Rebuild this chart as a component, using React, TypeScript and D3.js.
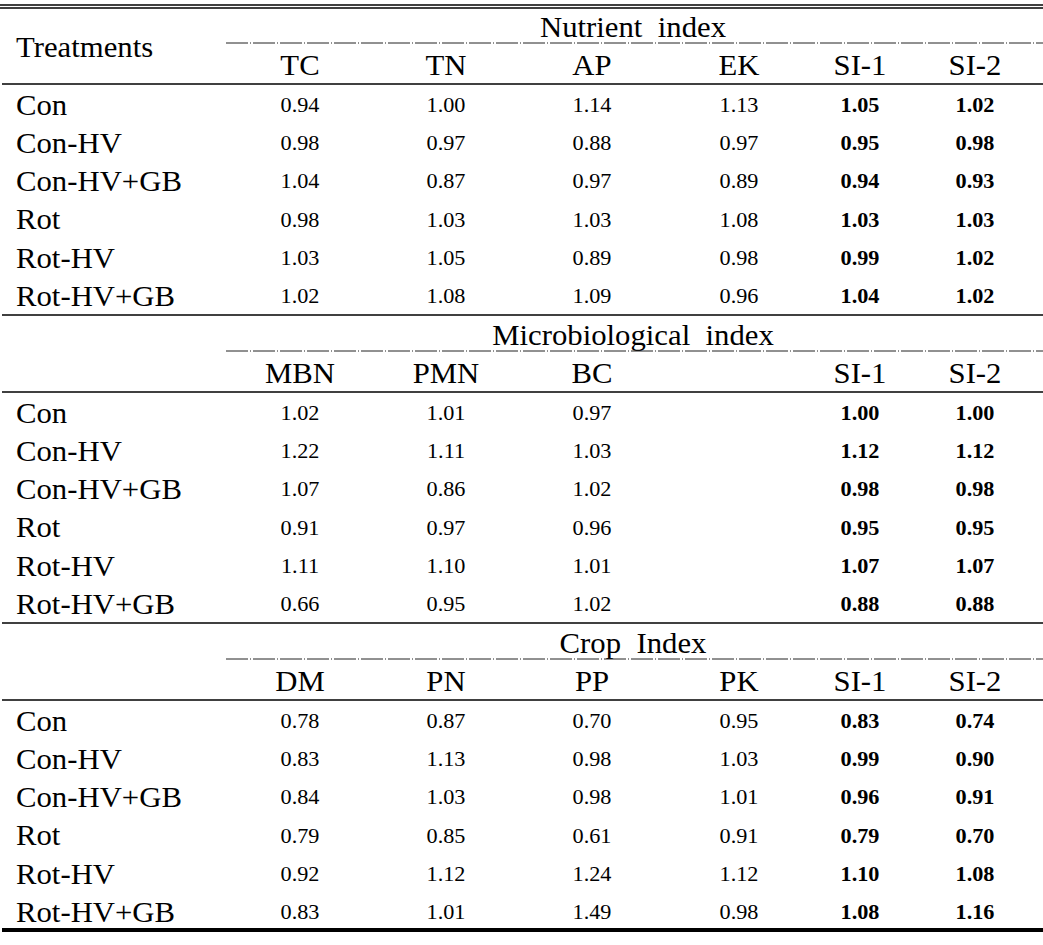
import { useRef, useEffect } from "react";
import * as d3 from "d3";

const WIDTH = 1043;
const HEIGHT = 945;

const treatments = ["Con", "Con-HV", "Con-HV+GB", "Rot", "Rot-HV", "Rot-HV+GB"];

const nutrientCols = ["TC", "TN", "AP", "EK", "SI-1", "SI-2"];
const nutrientRows = [
  ["0.94", "1.00", "1.14", "1.13", "1.05", "1.02"],
  ["0.98", "0.97", "0.88", "0.97", "0.95", "0.98"],
  ["1.04", "0.87", "0.97", "0.89", "0.94", "0.93"],
  ["0.98", "1.03", "1.03", "1.08", "1.03", "1.03"],
  ["1.03", "1.05", "0.89", "0.98", "0.99", "1.02"],
  ["1.02", "1.08", "1.09", "0.96", "1.04", "1.02"],
];

const microCols = ["MBN", "PMN", "BC", "", "SI-1", "SI-2"];
const microRows = [
  ["1.02", "1.01", "0.97", "", "1.00", "1.00"],
  ["1.22", "1.11", "1.03", "", "1.12", "1.12"],
  ["1.07", "0.86", "1.02", "", "0.98", "0.98"],
  ["0.91", "0.97", "0.96", "", "0.95", "0.95"],
  ["1.11", "1.10", "1.01", "", "1.07", "1.07"],
  ["0.66", "0.95", "1.02", "", "0.88", "0.88"],
];

const cropCols = ["DM", "PN", "PP", "PK", "SI-1", "SI-2"];
const cropRows = [
  ["0.78", "0.87", "0.70", "0.95", "0.83", "0.74"],
  ["0.83", "1.13", "0.98", "1.03", "0.99", "0.90"],
  ["0.84", "1.03", "0.98", "1.01", "0.96", "0.91"],
  ["0.79", "0.85", "0.61", "0.91", "0.79", "0.70"],
  ["0.92", "1.12", "1.24", "1.12", "1.10", "1.08"],
  ["0.83", "1.01", "1.49", "0.98", "1.08", "1.16"],
];

const sections = [
  { title: "Nutrient  index", cols: nutrientCols, rows: nutrientRows },
  { title: "Microbiological  index", cols: microCols, rows: microRows },
  { title: "Crop  Index", cols: cropCols, rows: cropRows },
];

const FONT = "'Liberation Serif', 'Times New Roman', serif";
const STRETCH = 1.06; // the source text is a bit wider than Times

function App() {
  const svgRef = useRef<SVGSVGElement>(null);

  useEffect(() => {
    const svg = d3.select(svgRef.current);
    svg.selectAll("*").remove();

    // column centres
    const colX = d3.scaleOrdinal<number, number>()
      .domain([0, 1, 2, 3, 4, 5])
      .range([300, 446, 592, 739, 860, 975]);
    // section top offsets
    const secY = d3.scaleLinear().domain([0, 1]).range([7, 315]);
    // row baselines inside a section
    const rowY = d3.scaleLinear().domain([0, 1]).range([107.5, 145.8]);

    const g = svg.append("g").style("font-family", FONT).attr("fill", "#000");

    // top double rule
    [5, 8].forEach((y) => {
      g.append("line").attr("x1", 0).attr("x2", WIDTH).attr("y1", y).attr("y2", y)
        .attr("stroke", "#000").attr("stroke-width", 1.4);
    });

    g.append("text")
      .attr("transform", `translate(16,57) scale(${STRETCH},1)`)
      .style("font-size", "29px")
      .text("Treatments");

    sections.forEach((sec, si) => {
      const top = secY(si);
      const sg = g.append("g").attr("transform", `translate(0,${top})`);

      if (si > 0) {
        sg.append("line").attr("x1", 2).attr("x2", WIDTH).attr("y1", 0).attr("y2", 0)
          .attr("stroke", "#000").attr("stroke-width", 1.4);
      }

      // section title
      sg.append("text")
        .attr("transform", `translate(633,30) scale(${STRETCH},1)`)
        .attr("text-anchor", "middle")
        .style("font-size", "29px")
        .style("white-space", "pre")
        .attr("xml:space", "preserve")
        .text(sec.title);

      // dash-dot rule under title
      sg.append("line").attr("x1", 226).attr("x2", WIDTH).attr("y1", 36).attr("y2", 36)
        .attr("stroke", "#222").attr("stroke-width", 1)
        .attr("stroke-dasharray", "22 2 1 2");

      // column headers
      sg.selectAll(".hdr")
        .data(sec.cols)
        .join("text")
        .attr("class", "hdr")
        .attr("transform", (_, i) => `translate(${colX(i)},68) scale(${STRETCH},1)`)
        .attr("text-anchor", "middle")
        .style("font-size", "29px")
        .text((d) => d);

      sg.append("line").attr("x1", 2).attr("x2", WIDTH).attr("y1", 77).attr("y2", 77)
        .attr("stroke", "#000").attr("stroke-width", 1.4);

      // row labels
      sg.selectAll(".lbl")
        .data(treatments)
        .join("text")
        .attr("class", "lbl")
        .attr("transform", (_, i) => `translate(16,${rowY(i)}) scale(${STRETCH},1)`)
        .style("font-size", "29px")
        .text((d) => d);

      // values
      sec.rows.forEach((row, ri) => {
        sg.selectAll(`.v${ri}`)
          .data(row)
          .join("text")
          .attr("class", `v${ri}`)
          .attr("transform", (_, i) => `translate(${colX(i)},${rowY(ri) - 2.7}) scale(${STRETCH},1)`)
          .attr("text-anchor", "middle")
          .style("font-size", "21px")
          .style("font-weight", (_, i) => (i >= 4 ? "bold" : "normal"))
          .text((d) => d);
      });
    });

    // bottom thick rule
    g.append("line").attr("x1", 2).attr("x2", WIDTH).attr("y1", 930).attr("y2", 930)
      .attr("stroke", "#000").attr("stroke-width", 4);
  }, []);

  return (
    <svg
      ref={svgRef}
      width={WIDTH}
      height={HEIGHT}
      style={{ position: "absolute", left: 0, top: 0, background: "#fff" }}
    />
  );
}

export default App;
